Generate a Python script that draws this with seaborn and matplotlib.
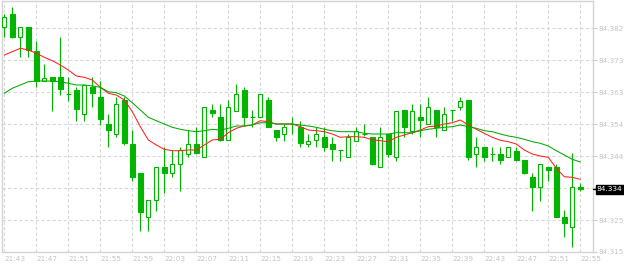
import numpy as np
import pandas as pd
import matplotlib
matplotlib.use("Agg")
import matplotlib.pyplot as plt
import seaborn as sns

# ---- data (1 minute candles, 21:43 .. 22:55) ----
opens = [84.38250, 84.38639, 84.37951, 84.38250, 84.37533, 84.36644, 84.36755, 84.36755, 84.36247, 84.36375,
         84.35657, 84.36456, 84.36157, 84.35358, 84.35059, 84.36076, 84.34760, 84.33884, 84.32568, 84.33076,
         84.34063, 84.33884, 84.34153, 84.34452, 84.34751, 84.34362, 84.35777, 84.35559, 84.34880, 84.35756,
         84.36375, 84.35559, 84.35559, 84.36076, 84.35179, 84.35059, 84.35358, 84.35278, 84.34760, 84.34880,
         84.34961, 84.34760, 84.34581, 84.34362, 84.34859, 84.35059, 84.34961, 84.34063, 84.35059, 84.34362,
         84.35768, 84.35158, 84.35559, 84.35358, 84.35777, 84.35179, 84.35777, 84.35858, 84.36076, 84.34461,
         84.34661, 84.34461, 84.34461, 84.34362, 84.34560, 84.34282, 84.33764, 84.33465, 84.34063, 84.34063,
         84.32586, 84.32269, 84.33465]
highs = [84.38648, 84.38867, 84.38250, 84.38250, 84.37832, 84.37153, 84.36755, 84.37960, 84.36755, 84.36456,
         84.36534, 84.36755, 84.36644, 84.35657, 84.36166, 84.36157, 84.35179, 84.33884, 84.33076, 84.34063,
         84.34661, 84.34581, 84.34661, 84.35179, 84.35260, 84.35852, 84.35957, 84.35957, 84.36076, 84.36555,
         84.36456, 84.35777, 84.36256, 84.36166, 84.35179, 84.35358, 84.35568, 84.35457, 84.35059, 84.35260,
         84.35260, 84.34961, 84.34581, 84.35059, 84.35278, 84.35358, 84.34961, 84.35260, 84.35059, 84.35756,
         84.35768, 84.35957, 84.35957, 84.36157, 84.35777, 84.35858, 84.35777, 84.36157, 84.36076, 84.34961,
         84.34661, 84.34661, 84.34661, 84.34661, 84.34661, 84.34282, 84.33902, 84.34162, 84.34063, 84.34162,
         84.32786, 84.34482, 84.33585]
lows = [84.37951, 84.37939, 84.37353, 84.37353, 84.36456, 84.36644, 84.35756, 84.36235, 84.36055, 84.35457,
        84.35457, 84.35858, 84.35337, 84.34661, 84.34961, 84.34739, 84.33662, 84.32167, 84.32167, 84.32765,
        84.33286, 84.33764, 84.33363, 84.34362, 84.34461, 84.34362, 84.35559, 84.34859, 84.34880, 84.35756,
        84.35299, 84.35260, 84.35559, 84.35278, 84.34859, 84.34859, 84.35059, 84.34661, 84.34661, 84.34661,
        84.34560, 84.34261, 84.34261, 84.34362, 84.34859, 84.35000, 84.34123, 84.34063, 84.34362, 84.34261,
        84.34961, 84.35059, 84.34961, 84.35358, 84.34961, 84.35179, 84.35457, 84.35777, 84.34282, 84.34063,
        84.34261, 84.34261, 84.34162, 84.34362, 84.34261, 84.33863, 84.32765, 84.33064, 84.33662, 84.32568,
        84.31970, 84.31671, 84.33363]
closes = [84.38550, 84.37969, 84.38250, 84.37572, 84.36644, 84.36743, 84.36644, 84.36396, 84.36247, 84.35798,
          84.36534, 84.36277, 84.35499, 84.35179, 84.35948, 84.34781, 84.33782, 84.32717, 84.33076, 84.34063,
          84.33902, 84.34153, 84.34581, 84.34751, 84.34482, 84.35852, 84.35678, 84.34880, 84.35858, 84.36256,
          84.35577, 84.35559, 84.36256, 84.35278, 84.34978, 84.35260, 84.35358, 84.34781, 84.34859, 84.35059,
          84.34679, 84.34602, 84.34581, 84.34961, 84.35158, 84.35059, 84.34162, 84.34961, 84.34461, 84.35756,
          84.35278, 84.35756, 84.35478, 84.35858, 84.35278, 84.35657, 84.35777, 84.36055, 84.34380, 84.34661,
          84.34380, 84.34461, 84.34282, 84.34661, 84.34282, 84.33902, 84.33483, 84.34162, 84.33983, 84.32586,
          84.32406, 84.33465, 84.33405]
ma_fast = [84.37422, 84.37521, 84.37622, 84.37572, 84.37473, 84.37353, 84.37252, 84.37123, 84.36973, 84.36794,
           84.36755, 84.36674, 84.36456, 84.36277, 84.36226, 84.36076, 84.35726, 84.35278, 84.34880, 84.34730,
           84.34602, 84.34560, 84.34560, 84.34581, 84.34581, 84.34730, 84.34880, 84.34901, 84.35098, 84.35230,
           84.35299, 84.35328, 84.35457, 84.35427, 84.35358, 84.35358, 84.35358, 84.35278, 84.35179, 84.35158,
           84.35128, 84.35059, 84.34961, 84.34978, 84.34978, 84.34961, 84.34880, 84.34859, 84.34829, 84.34961,
           84.35029, 84.35098, 84.35179, 84.35278, 84.35299, 84.35358, 84.35397, 84.35478, 84.35328, 84.35200,
           84.35080, 84.34961, 84.34871, 84.34829, 84.34760, 84.34581, 84.34461, 84.34401, 84.34362, 84.34033,
           84.33782, 84.33764, 84.33704]
ma_slow = [84.36277, 84.36426, 84.36525, 84.36623, 84.36644, 84.36644, 84.36644, 84.36623, 84.36576, 84.36525,
           84.36525, 84.36495, 84.36456, 84.36324, 84.36294, 84.36196, 84.35995, 84.35777, 84.35559, 84.35457,
           84.35358, 84.35260, 84.35200, 84.35158, 84.35128, 84.35158, 84.35200, 84.35179, 84.35230, 84.35299,
           84.35299, 84.35328, 84.35397, 84.35397, 84.35358, 84.35358, 84.35358, 84.35328, 84.35299, 84.35260,
           84.35200, 84.35158, 84.35128, 84.35128, 84.35128, 84.35080, 84.35059, 84.35059, 84.35059, 84.35098,
           84.35098, 84.35098, 84.35158, 84.35200, 84.35230, 84.35260, 84.35278, 84.35328, 84.35278, 84.35230,
           84.35158, 84.35128, 84.35059, 84.34999, 84.34961, 84.34901, 84.34829, 84.34781, 84.34700, 84.34560,
           84.34431, 84.34302, 84.34222]
y_ticks = [84.3153, 84.32487, 84.33444, 84.34401, 84.35358, 84.36315, 84.37272, 84.38229]
y_tick_labels = ["84.315", "84.325", "84.334", "84.344", "84.354", "84.363", "84.373", "84.382"]
x_tick_labels = ["21:43", "21:47", "21:51", "21:55", "21:59", "22:03", "22:07", "22:11", "22:15", "22:19",
                 "22:23", "22:27", "22:31", "22:35", "22:39", "22:43", "22:47", "22:51", "22:55"]

GREEN = "#00b400"
MA_GREEN = "#00aa00"
RED = "#ff2020"
GRID = "#d8d8d8"
LABEL = "#c4c4c4"

df = pd.DataFrame({"open": opens, "high": highs, "low": lows, "close": closes,
                   "ma_fast": ma_fast, "ma_slow": ma_slow})
df["idx"] = np.arange(len(df))

sns.set_style("white")
plt.rcParams["font.family"] = ["DejaVu Sans"]

fig = plt.figure(figsize=(6.24, 2.66), dpi=100)
fig.patch.set_facecolor("white")
ax = fig.add_axes([2 / 624, 14 / 266, 590.7 / 624, 251 / 266])

# wicks
ax.vlines(df["idx"], df["low"], df["high"], color=GREEN, lw=0.8, zorder=2)
# bodies
up = df["close"] > df["open"]
down = ~up
ax.bar(df.loc[up, "idx"], df.loc[up, "close"] - df.loc[up, "open"], bottom=df.loc[up, "open"],
       width=0.5, facecolor="white", edgecolor=GREEN, linewidth=0.8, zorder=3)
ax.bar(df.loc[down, "idx"], df.loc[down, "close"] - df.loc[down, "open"], bottom=df.loc[down, "open"],
       width=0.55, facecolor=GREEN, edgecolor=GREEN, linewidth=0.8, zorder=3)

# moving averages
sns.lineplot(data=df, x="idx", y="ma_fast", color=RED, lw=0.75, ax=ax, zorder=4)
sns.lineplot(data=df, x="idx", y="ma_slow", color=MA_GREEN, lw=0.75, ax=ax, zorder=4)

ax.set_xlim(-0.29, 73.55)
ax.set_ylim(84.3153, 84.39037)

ax.set_xticks(df["idx"][::4])
ax.set_xticklabels(x_tick_labels, ha="left")
ax.set_yticks(y_ticks)
ax.set_yticklabels(y_tick_labels)
ax.yaxis.tick_right()
ax.tick_params(axis="y", which="both", length=3, width=0.8, color="#cfcfcf", labelsize=5.2,
               labelcolor=LABEL, pad=1)
ax.tick_params(axis="x", which="both", length=0, labelsize=5.2, labelcolor=LABEL, pad=3.2)
ax.set_xlabel("")
ax.set_ylabel("")

ax.grid(True, color=GRID, linestyle=(0, (3, 2)), lw=0.8)
ax.set_axisbelow(True)
for s in ax.spines.values():
    s.set_color("#d4d4d4")
    s.set_linewidth(1.0)
    s.set_visible(True)

# last price marker
last = df["close"].iloc[-1]
ax.annotate(f"{last:.3f}", xy=(1.0, last), xycoords=("axes fraction", "data"),
            xytext=(3.0, 0), textcoords="offset points", va="center", ha="left",
            fontsize=5.4, color="white", annotation_clip=False, zorder=10,
            bbox=dict(boxstyle="square,pad=0.18", facecolor="black", edgecolor="black"))
ax.plot([1.0, 1.0075], [last, last], transform=ax.get_yaxis_transform(), color="black",
        lw=1.0, clip_on=False, zorder=10)

fig.savefig("out.png", dpi=100, facecolor="white")
